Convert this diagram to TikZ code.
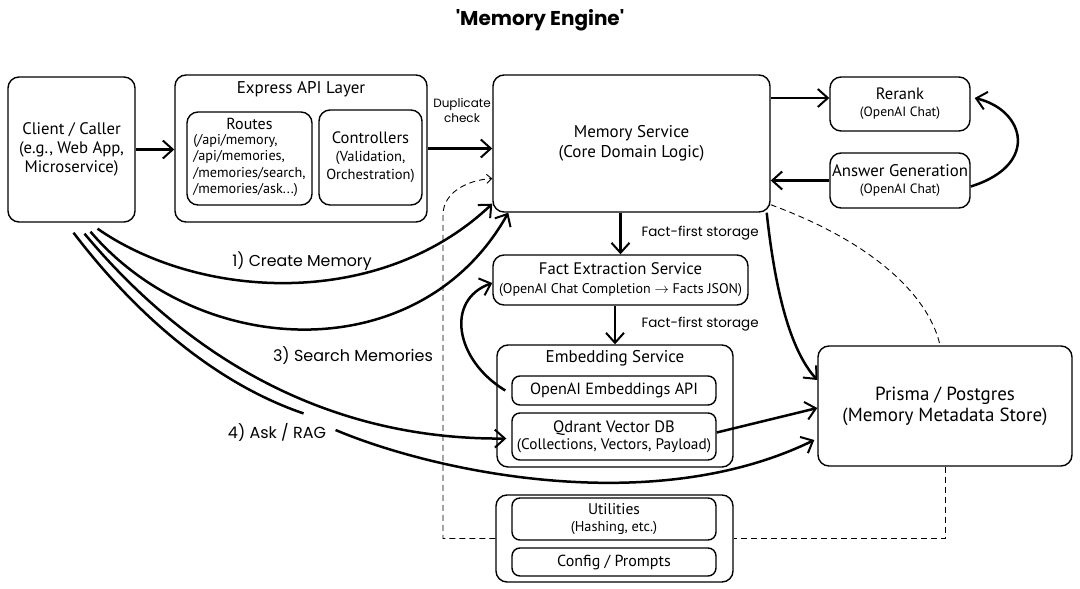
\documentclass[tikz,border=0pt]{standalone}
\usepackage{fontspec}
\setmainfont{PT Sans}
\newfontfamily\handfont{Poppins}
\usetikzlibrary{arrows.meta}
\newcommand\fs[2]{\fontsize{#1}{#2}\selectfont}

\tikzset{
  box/.style={draw, line width=1.4pt, rounded corners=11pt, align=center, inner sep=2pt},
  wire/.style={line width=2.5pt, -{Straight Barb[length=10pt,width=18pt,line width=2pt]}},
  dashwire/.style={line width=0.9pt, dash pattern=on 6pt off 4pt},
  hand/.style={font=\handfont\fs{13.5}{16}},
}

\begin{document}
\begin{tikzpicture}[x=1pt,y=-1pt]
\useasboundingbox[fill=white] (0,0) rectangle (1080,589);

% title
\node[font=\handfont\bfseries\fs{20}{24}] (title) at (540,20) {\textquotesingle Memory Engine\textquotesingle};

% client and API layer
\node[box, minimum width=127, minimum height=145, font=\fs{16.7}{19}] (client) at (71.5,149.5) {Client / Caller\\(e.g., Web App,\\Microservice)};
\node[box, minimum width=252, minimum height=147] (express) at (301,148.5) {};
\node[font=\fs{17}{19}] (expresstitle) at (301,89) {Express API Layer};
\node[box, minimum width=125, minimum height=93, font=\fs{16}{17}] (routes) at (249.5,158.5)
  {Routes\\[2pt]{\fs{14.2}{16.5}\begin{tabular}{@{}l@{}}(/api/memory,\\/api/memories,\\/memories/search,\\/memories/ask...)\end{tabular}}};
\node[box, minimum width=103, minimum height=95, font=\fs{16.5}{18}] (controllers) at (370.5,157.5)
  {Controllers\\{\fs{14.5}{16}(Validation,}\\{\fs{14.5}{16}Orchestration)}};

% core
\node[box, minimum width=277, minimum height=137, font=\fs{17}{20}] (memory) at (631.5,143.5) {Memory Service\\(Core Domain Logic)};
\node[box, minimum width=140, minimum height=54, font=\fs{16.5}{17}] (rerank) at (900,104) {Rerank\\{\fs{13.5}{15}(OpenAI Chat)}};
\node[box, minimum width=140, minimum height=55, font=\fs{16.8}{17}] (answer) at (900,180.5) {Answer Generation\\{\fs{13.5}{15}(OpenAI Chat)}};
\node[box, minimum width=255, minimum height=50, font=\fs{16.7}{19}] (fact) at (620.5,280)
  {Fact Extraction Service\\{\fs{14}{16}(OpenAI Chat Completion $\rightarrow$ Facts JSON)}};

% embedding
\node[box, minimum width=236, minimum height=122] (embed) at (615,406) {};
\node[font=\fs{17}{19}] (embedtitle) at (615,358) {Embedding Service};
\node[box, minimum width=204, minimum height=29, rounded corners=8pt, font=\fs{16.2}{18}] (embapi) at (614,390.5) {OpenAI Embeddings API};
\node[box, minimum width=204, minimum height=47, rounded corners=8pt, font=\fs{16.5}{17}] (qdrant) at (614,436.5)
  {Qdrant Vector DB\\{\fs{15.3}{16}(Collections, Vectors, Payload)}};

\node[box, minimum width=254, minimum height=120, font=\fs{19}{21}] (prisma) at (945,406) {Prisma / Postgres\\(Memory Metadata Store)};

% utilities
\node[box, minimum width=237, minimum height=87] (utilgroup) at (614.5,538.5) {};
\node[box, minimum width=204, minimum height=42, rounded corners=8pt, font=\fs{15.5}{17}] (utilities) at (614,519) {Utilities\\{\fs{14.3}{15}(Hashing, etc.)}};
\node[box, minimum width=204, minimum height=28, rounded corners=8pt, font=\fs{16}{18}] (config) at (614,562) {Config / Prompts};

% labels
\node[hand, align=center, font=\handfont\fs{12}{15}] (dupl) at (462,110) {Duplicate\\check};
\node[hand, anchor=west] (factlbl1) at (638,233) {Fact-first storage};
\node[hand, anchor=west] (factlbl2) at (638,324) {Fact-first storage};
\node[hand, font=\handfont\fs{15.8}{18}] (create) at (302,261) {1) Create Memory};
\node[hand, font=\handfont\fs{16}{18}] (search) at (353,356) {3) Search Memories};
\node[hand, font=\handfont\fs{16}{18}] (ask) at (277,432) {4) Ask / RAG};

% straight flows
\draw[wire] (client.east) -- (client.east -| express.west);
\draw[wire] (express.east) -- (express.east -| memory.west);
\draw[wire] ([yshift=6]memory.east |- rerank.west) -- ([yshift=6]rerank.west);
\draw[wire] (answer.west) -- (answer.west -| memory.east);
\draw[wire] (memory.south -| fact.north) -- (fact.north);
\draw[wire] (fact.south -| embed.north) -- (embed.north);
\draw[wire] ([yshift=4]qdrant.east) -- ([yshift=-2]prisma.west);

% curved flows
\draw[wire] ([yshift=-6]answer.east) .. controls (1040,165) and (1025,110) .. ([shift={(4,-6)}]rerank.east);
\draw[wire] ([xshift=-4]memory.south east) .. controls (775,290) and (790,350) .. ([yshift=26]prisma.west);
\draw[wire] ([xshift=-6]embapi.west) .. controls (455,360) and (445,300) .. ([yshift=-3]fact.west);

% client requests
\draw[wire] ([shift={(26,6)}]client.south) .. controls (200,300) and (380,310) .. ([shift={(0,-9)}]memory.south west);
\draw[wire] ([shift={(19,9)}]client.south) .. controls (200,360) and (420,370) .. ([shift={(16,0)}]memory.south west);
\draw[wire] ([shift={(13,11)}]client.south) .. controls (190,360) and (330,440) .. ([shift={(-5,2)}]qdrant.west);
\draw[line width=2.5pt] ([shift={(2,10)}]client.south) .. controls (140,320) and (220,385) .. ([shift={(-26,-6)}]ask.north east);
\draw[wire] ([shift={(6,-2)}]ask.east) .. controls (430,470) and (650,520) .. ([shift={(-3,34)}]prisma.west);

% dashed links
\draw[dashwire] ([yshift=8]memory.south east) .. controls (880,245) and (930,300) .. ([xshift=-5]prisma.north);
\draw[dashwire] (prisma.south) -- (prisma.south |- utilgroup.east) -- (utilgroup.east);
\draw[dashwire, -{Straight Barb[length=5pt,width=9pt]}] (utilgroup.west) -- (443,538.5) -- (443,215)
  .. controls (443,192) and (468,180) .. ([yshift=-35]memory.west);
\end{tikzpicture}
\end{document}
